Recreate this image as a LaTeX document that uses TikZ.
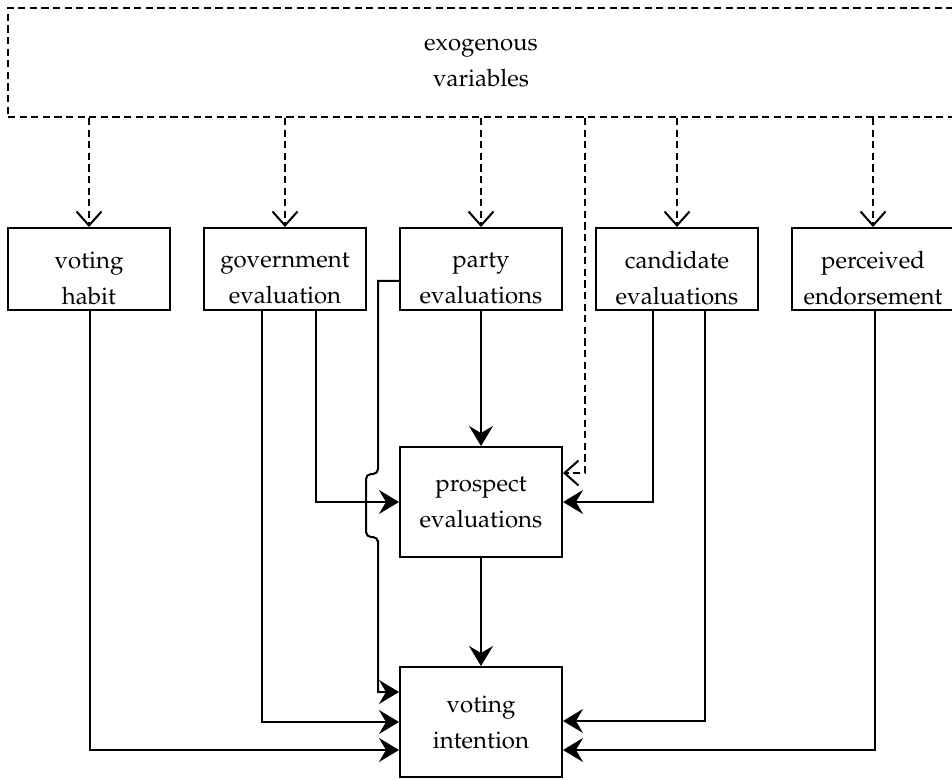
\documentclass[tikz,border=0pt]{standalone}
\usepackage[T1]{fontenc}
\usepackage{mathpazo}
\usetikzlibrary{arrows.meta,calc}

\tikzset{
  box/.style={draw, line width=1pt, minimum width=81pt, minimum height=41pt,
    inner sep=0pt, align=center, font=\fontsize{12}{18}\selectfont},
  bigbox/.style={box, minimum height=55pt},
  boxtext/.style={inner sep=0pt, align=center, font=\fontsize{12}{18}\selectfont},
  exobox/.style={box, dash pattern=on 3.6pt off 2.2pt, minimum width=473pt, minimum height=54.5pt},
  link/.style={line width=1pt, -{Stealth[length=10pt,width=12pt,inset=3.5pt]}},
  exolink/.style={line width=1pt, dash pattern=on 3.6pt off 2.2pt,
    -{Straight Barb[length=7pt,width=12.5pt]}}
}

\begin{document}
\begin{tikzpicture}[x=0.5pt, y=-0.5pt]
  \useasboundingbox (0,0) rectangle (952,780);
  \clip (0,0) rectangle (952,780);

  % exogenous block
  \node[exobox] (exo) at (481,62.5) {exogenous\\variables};

  % the five first-stage variables (labels sit a little low in their boxes)
  \node[box] (habit) at (89,269)  {};
  \node[box] (gov)   at (285,269) {};
  \node[box] (party) at (481,269) {};
  \node[box] (cand)  at (677,269) {};
  \node[box] (endo)  at (873,269) {};
  \node[boxtext] (habitT) at ($(habit)+(0,9)$) {voting\\habit};
  \node[boxtext] (govT)   at ($(gov)+(0,9)$)   {government\\evaluation};
  \node[boxtext] (partyT) at ($(party)+(0,9)$) {party\\evaluations};
  \node[boxtext] (candT)  at ($(cand)+(0,9)$)  {candidate\\evaluations};
  \node[boxtext] (endoT)  at ($(endo)+(0,9)$)  {perceived\\endorsement};

  % mediator and outcome
  \node[bigbox] (prosp) at (481,502) {prospect\\evaluations};
  \node[bigbox] (vote)  at (481,722) {voting\\intention};

  % exogenous influences
  \foreach \n in {habit,gov,party,cand,endo}
    \draw[exolink] (exo.south -| \n.north) -- (\n.north);
  \coordinate (exoturn) at (585,473);
  \draw[exolink] (exo.south -| exoturn) -- (exoturn) -- (exoturn -| prosp.east);

  % helper coordinates for the vertical runs
  \coordinate (govA)  at (316,0);
  \coordinate (govB)  at (262,0);
  \coordinate (candA) at (653,0);
  \coordinate (candB) at (705,0);
  \coordinate (habX)  at (90,0);
  \coordinate (endX)  at (875,0);
  \coordinate (hopX)  at (378,0);
  \coordinate (voteHi) at ($(vote.west)+(0,-30)$);
  \coordinate (voteLo) at ($(vote.west)+(0,28)$);
  \coordinate (voteHiE) at ($(vote.east)+(0,-1)$);
  \coordinate (voteLoE) at ($(vote.east)+(0,28)$);

  % paths into prospect evaluations
  \draw[link] (party) -- (prosp);
  \draw[link] (gov.south -| govA) |- (prosp.west);
  \draw[link] (cand.south -| candA) |- (prosp.east);

  % paths into voting intention
  \draw[link] (prosp) -- (vote);
  \draw[link] (gov.south -| govB) |- (vote.west);
  \draw[link] (habit.south -| habX) |- (voteLo);
  \draw[link] (cand.south -| candB) |- (voteHiE);
  \draw[link] (endo.south -| endX) |- (voteLoE);

  % party evaluations -> voting intention, hopping over the government line
  \coordinate (pstart) at (400,281);
  \draw[link] (pstart) -- (378,281) -- (378,468)
    [rounded corners=2.5pt] -- (378,474) -- (366,474) -- (366,537) -- (378,537) -- (378,545)
    [sharp corners] -- (hopX |- voteHi) -- (voteHi);
\end{tikzpicture}
\end{document}
